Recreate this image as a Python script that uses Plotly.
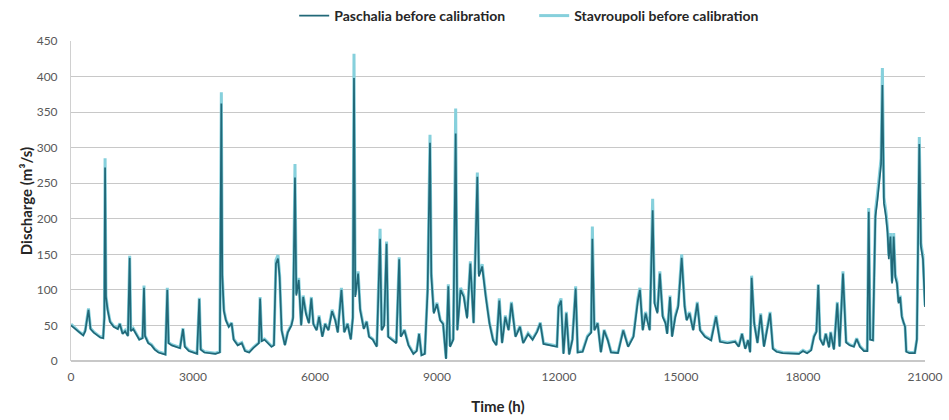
import plotly.graph_objects as go

TIME = [0, 100, 200, 300, 350, 430, 480, 560, 650, 720, 790, 820, 838, 860, 900, 960, 1050, 1150, 1200, 1270,
        1330, 1400, 1443, 1470, 1530, 1600, 1680, 1760, 1795, 1820, 1900, 1980, 2060, 2150, 2250, 2320, 2368, 2400,
        2480, 2560, 2680, 2754, 2800, 2900, 3000, 3100, 3155, 3190, 3280, 3400, 3550, 3660, 3697, 3720, 3760, 3810,
        3880, 3950, 4000, 4100, 4200, 4280, 4380, 4480, 4560, 4620, 4650, 4690, 4760, 4850, 4930, 4990, 5040, 5090,
        5130, 5180, 5260, 5330, 5420, 5460, 5508, 5540, 5600, 5660, 5710, 5780, 5850, 5910, 5960, 6040, 6100, 6180,
        6250, 6330, 6420, 6500, 6560, 6650, 6720, 6800, 6880, 6930, 6959, 6990, 7060, 7110, 7200, 7270, 7330, 7420,
        7520, 7600, 7640, 7700, 7760, 7800, 7900, 8000, 8070, 8110, 8200, 8300, 8420, 8500, 8560, 8620, 8700, 8770,
        8828, 8860, 8920, 9000, 9080, 9150, 9222, 9278, 9320, 9400, 9459, 9500, 9580, 9660, 9740, 9820, 9900, 9992,
        10030, 10110, 10200, 10290, 10380, 10460, 10532, 10600, 10680, 10760, 10830, 10930, 11040, 11120, 11240,
        11350, 11460, 11540, 11620, 11780, 11950, 11990, 12050, 12110, 12180, 12250, 12330, 12410, 12460, 12580,
        12700, 12790, 12820, 12870, 12950, 13030, 13110, 13200, 13280, 13450, 13580, 13700, 13830, 13940, 13990,
        14060, 14130, 14230, 14303, 14350, 14420, 14480, 14550, 14620, 14660, 14730, 14780, 14860, 14930, 15017,
        15090, 15140, 15210, 15300, 15400, 15470, 15590, 15740, 15861, 15960, 16140, 16330, 16420, 16500, 16580,
        16650, 16700, 16737, 16800, 16880, 16960, 17040, 17190, 17260, 17350, 17500, 17700, 17900, 18000, 18100,
        18200, 18270, 18330, 18376, 18420, 18500, 18560, 18640, 18680, 18760, 18843, 18900, 18983, 19060, 19150,
        19250, 19320, 19400, 19500, 19580, 19616, 19650, 19720, 19780, 19830, 19880, 19920, 19952, 19990, 20040,
        20080, 20110, 20150, 20190, 20230, 20270, 20310, 20350, 20390, 20430, 20470, 20510, 20540, 20620, 20750,
        20800, 20860, 20900, 20950, 21000]

PASCHALIA = [50, 45, 40, 36, 42, 72, 45, 40, 36, 33, 32, 60, 272, 90, 72, 55, 48, 45, 52, 38,
             42, 35, 145, 42, 45, 38, 30, 32, 103, 35, 25, 22, 16, 12, 10, 9, 100, 25,
             22, 20, 18, 45, 20, 14, 12, 10, 87, 16, 12, 11, 10, 12, 362, 119, 70, 57,
             48, 53, 30, 22, 25, 14, 12, 18, 22, 25, 88, 28, 30, 24, 20, 22, 137, 144,
             118, 43, 22, 40, 50, 60, 258, 92, 114, 50, 90, 66, 53, 88, 52, 43, 62, 34,
             52, 43, 70, 57, 40, 100, 40, 52, 30, 60, 398, 90, 123, 72, 45, 55, 34, 30,
             20, 172, 43, 50, 165, 34, 30, 25, 143, 34, 43, 22, 10, 14, 38, 8, 10, 100,
             307, 120, 67, 80, 57, 52, 3, 105, 20, 30, 320, 43, 100, 90, 60, 137, 53, 259,
             119, 133, 90, 53, 29, 22, 85, 25, 62, 43, 81, 34, 48, 25, 38,
             30, 41, 53, 24, 22, 20, 76, 85, 10, 67, 9, 30, 102, 12, 13,
             34, 40, 172, 43, 53, 12, 43, 29, 12, 11, 43, 20, 34, 85, 100,
             43, 67, 43, 212, 81, 67, 123, 62, 53, 38, 90, 34, 62, 76, 145,
             76, 57, 67, 43, 81, 43, 34, 29, 62, 27, 25, 27, 20, 38, 17,
             29, 12, 117, 53, 25, 65, 20, 67, 17, 13, 11, 10, 10, 14, 11,
             15, 34, 41, 107, 31, 22, 38, 19, 40, 16, 81, 20, 123, 26, 22,
             20, 31, 20, 14, 14, 210, 30, 29, 203, 226, 254, 277, 388, 222, 203,
             180, 143, 175, 109, 175, 118, 109, 81, 90, 62, 53, 48, 13, 11, 11,
             30, 305, 161, 143, 76]

STAVROUPOLI = [52, 46, 41, 37, 43, 74, 46, 41, 37, 34, 33, 62, 285, 92, 74, 56, 49, 46, 53, 39,
               43, 36, 148, 43, 46, 39, 31, 33, 106, 36, 26, 23, 17, 13, 11, 10, 103, 26,
               23, 21, 19, 46, 21, 15, 13, 11, 89, 17, 13, 12, 11, 13, 378, 122, 72, 58,
               49, 54, 31, 23, 26, 15, 13, 19, 23, 26, 90, 29, 31, 25, 21, 23, 142, 149,
               121, 44, 23, 41, 51, 62, 277, 95, 117, 51, 92, 68, 54, 90, 53, 44, 64, 35,
               53, 44, 72, 58, 41, 103, 41, 53, 31, 62, 432, 93, 126, 74, 46, 56, 35, 31,
               21, 186, 44, 51, 168, 35, 31, 26, 146, 35, 44, 23, 11, 15, 39, 9, 11, 103,
               318, 124, 69, 82, 58, 53, 4, 108, 21, 31, 355, 44, 103, 92, 62, 140, 54, 265,
               122, 136, 92, 54, 30, 23, 88, 26, 64, 44, 83, 35, 49, 26, 39,
               31, 42, 54, 25, 23, 21, 78, 88, 11, 69, 10, 31, 105, 13, 14,
               35, 41, 189, 44, 54, 13, 44, 30, 13, 12, 44, 21, 35, 88, 103,
               44, 69, 44, 228, 83, 69, 126, 64, 54, 39, 92, 35, 64, 78, 150,
               78, 58, 69, 44, 83, 44, 35, 30, 64, 28, 26, 28, 21, 39, 18,
               30, 13, 120, 54, 26, 67, 21, 69, 18, 14, 12, 11, 11, 15, 12,
               16, 35, 42, 108, 32, 23, 39, 20, 41, 17, 83, 21, 126, 27, 23,
               21, 32, 21, 15, 15, 215, 31, 30, 210, 235, 262, 285, 412, 230, 210,
               186, 148, 180, 112, 180, 121, 112, 83, 92, 64, 54, 49, 14, 12, 12,
               31, 315, 166, 147, 78]

X_TICKS = [0, 3000, 6000, 9000, 12000, 15000, 18000, 21000]
X_LABELS = ["0", "3000", "6000", "9000", "12000", "15000", "18000", "21000"]
Y_TICKS = [0, 50, 100, 150, 200, 250, 300, 350, 400, 450]

FONT = "Liberation Sans Narrow, Lato, Open Sans, sans-serif"

fig = go.Figure()
fig.add_trace(go.Scatter(x=TIME, y=STAVROUPOLI, mode="lines", name="Stavroupoli before calibration",
                         line=dict(color="#86d0dc", width=3.0), legendrank=2))
fig.add_trace(go.Scatter(x=TIME, y=PASCHALIA, mode="lines", name="Paschalia before calibration",
                         line=dict(color="#216878", width=1.7), legendrank=1))

fig.update_layout(
    width=949, height=420,
    margin=dict(l=71, r=24, t=41, b=59, autoexpand=False),
    paper_bgcolor="white", plot_bgcolor="white",
    font=dict(family=FONT, size=12, color="#404040"),
    legend=dict(orientation="h", xref="container", x=0.31, xanchor="left",
                yref="container", y=1 - 16 / 420, yanchor="middle",
                font=dict(family=FONT, size=14, color="#262626", weight="bold"),
                entrywidth=195, itemwidth=30, traceorder="normal"),
    xaxis=dict(range=[0, 21000], tickvals=X_TICKS, ticktext=X_LABELS, showgrid=False,
               zeroline=False, showline=False, ticks="", ticklabelstandoff=7,
               tickfont=dict(size=12, color="#595959"),
               title=dict(text="Time (h)", font=dict(family=FONT, size=15, color="#262626", weight="bold"),
                          standoff=18)),
    yaxis=dict(range=[0, 450], tickvals=Y_TICKS, showgrid=True, gridcolor="#c8c8c8", gridwidth=1,
               zeroline=True, zerolinecolor="#c8c8c8", showline=True, linecolor="#d0d0d0", ticks="",
               ticklabelstandoff=10,
               tickfont=dict(size=12, color="#595959"),
               title=dict(text="Discharge (m³/s)", font=dict(family=FONT, size=15, color="#262626", weight="bold"),
                          standoff=0)),
)

fig.write_html("out.html")
